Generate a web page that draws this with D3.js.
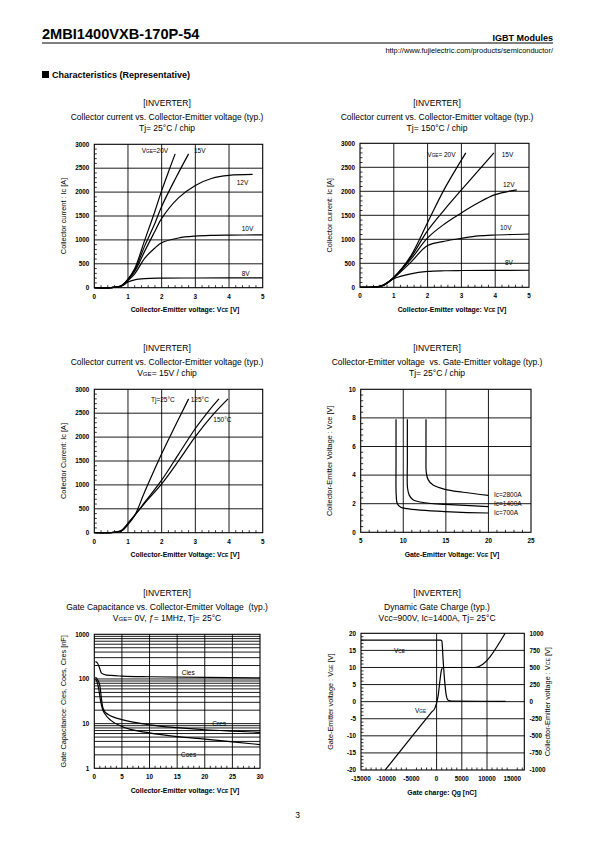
<!DOCTYPE html>
<html><head><meta charset="utf-8">
<script src="https://cdn.jsdelivr.net/npm/d3@7"></script>
<style>html,body{margin:0;padding:0;background:#fff}svg{display:block}text{font-family:"Liberation Sans",Arial,sans-serif;fill:#000;white-space:pre}</style>
</head><body><svg id="page" width="595" height="842"></svg>
<script>
// ---------- DATA ----------
const ticksIc = [0,500,1000,1500,2000,2500,3000];
const ticksVce5 = [0,1,2,3,4,5];
// Chart 1: Tj=25°C  [Vce, Ic]
const c1_20V = [[0,0],[0.5,3],[0.8,40],[1.0,180],[1.2,400],[1.5,1000],[1.8,1600],[2.0,2030],[2.2,2420],[2.4,2800]];
const c1_15V = [[0,0],[0.5,3],[0.8,38],[1.0,175],[1.2,370],[1.5,880],[1.8,1350],[2.0,1700],[2.4,2270],[2.8,2800]];
const c1_12V = [[0,0],[0.5,3],[0.8,36],[1.0,170],[1.2,340],[1.5,770],[1.8,1180],[2.0,1450],[2.5,1880],[3.0,2140],[3.5,2290],[4.0,2350],[4.7,2370]];
const c1_10V = [[0,0],[0.5,3],[0.8,34],[1.0,150],[1.2,290],[1.5,620],[1.8,830],[2.0,940],[2.5,1040],[3.0,1080],[3.5,1095],[4.0,1100],[5.0,1105]];
const c1_8V  = [[0,0],[0.5,3],[0.8,30],[1.0,120],[1.2,165],[1.5,190],[2.0,200],[3.0,203],[5.0,205]];
const c1Labels = ["VGE=20V","15V","12V","10V","8V"];
// Chart 2: Tj=150°C
const c2_20V = [[0,0],[0.5,10],[0.7,50],[1.0,210],[1.5,650],[2.0,1350],[2.5,2050],[3.13,2800]];
const c2_15V = [[0,0],[0.5,10],[0.7,48],[1.0,205],[1.5,620],[2.0,1180],[2.5,1620],[3.0,2030],[3.5,2430],[3.96,2800]];
const c2_12V = [[0,0],[0.5,10],[0.7,46],[1.0,200],[1.5,580],[2.0,1030],[2.5,1320],[3.0,1550],[3.5,1760],[4.0,1930],[4.64,2030]];
const c2_10V = [[0,0],[0.5,10],[0.7,44],[1.0,195],[1.5,520],[2.0,870],[2.5,960],[3.0,1020],[3.5,1070],[4.0,1090],[5.0,1110]];
const c2_8V  = [[0,0],[0.5,10],[0.7,40],[1.0,180],[1.5,280],[2.0,330],[2.5,345],[3.0,350],[5.0,355]];
const c2Labels = ["VGE= 20V","15V","12V","10V","8V"];
// Chart 3: VGE=15V
const c3_25C  = [[0,0],[0.5,3],[0.8,30],[1.0,170],[1.2,360],[1.5,860],[2.0,1650],[2.4,2230],[2.8,2800]];
const c3_125C = [[0,0],[0.5,2],[0.8,40],[1.0,190],[1.3,450],[1.5,640],[2.0,1100],[2.5,1640],[3.0,2180],[3.4,2550],[3.7,2800]];
const c3_150C = [[0,0],[0.5,2],[0.8,45],[1.0,200],[1.3,450],[1.5,620],[2.0,1020],[2.5,1500],[3.0,2010],[3.5,2450],[3.97,2800]];
const c3Labels = ["Tj=25°C","125°C","150°C"];
// Chart 4: Vce vs Vge  [Vge, Vce]
const ticksVge = [5,10,15,20,25];
const ticksVce10 = [0,2,4,6,8,10];
const c4_700A  = [[9.15,7.9],[9.15,5],[9.17,2.6],[9.3,2.0],[9.7,1.75],[10.4,1.65],[12,1.55],[14.9,1.45],[20,1.35]];
const c4_1400A = [[10.48,7.9],[10.48,5],[10.5,3.1],[10.7,2.6],[11.1,2.3],[11.6,2.17],[13,2.03],[14.9,1.95],[20,1.8]];
const c4_2800A = [[12.67,7.9],[12.67,5.5],[12.7,4.2],[12.9,3.7],[13.5,3.3],[14.9,3.0],[17,2.8],[20,2.58]];
const c4Labels = ["Ic=2800A","Ic=1400A","Ic=700A"];
// Chart 5: capacitance  [Vce, C nF]
const ticksVce30 = [0,5,10,15,20,25,30];
const ticksCap = [1,10,100,1000];
const c5_Cies = [[0.2,245],[0.6,225],[1.0,170],[1.3,135],[2,124],[3,120],[5,116],[10,112],[20,108],[30,106]];
const c5_Cres = [[0.2,110],[0.6,96],[1.0,72],[1.25,40],[1.5,24],[1.8,19.5],[2.5,16],[3.5,14],[5,12.3],[10,9.4],[15,8.1],[20,7.3],[25,6.8],[30,6.4]];
const c5_Coes = [[0.2,100],[0.5,86],[0.8,60],[1.1,34],[1.5,21],[2,16],[3,11.8],[5,8.6],[10,6.2],[15,5.1],[20,4.5],[25,3.9],[30,3.4]];
const c5Labels = ["Cies","Cres","Coes"];
// Chart 6: gate charge  [Qg nC, V]
const ticksQg = [-15000,-10000,-5000,0,5000,10000,15000];
const ticksVgeL = [-20,-15,-10,-5,0,5,10,15,20];
const ticksVceR = [-1000,-750,-500,-250,0,250,500,750,1000];
const c6_Vge = [[-10200,-20],[-5000,-10.4],[-1000,-3.1],[-340,-1.9],[0,-0.4],[330,2],[650,6],[1000,9.5],[1250,10],[7600,10],[13600,20]];
const c6_Vce = [[-15000,900],[800,900],[1050,885],[1300,600],[1600,300],[1900,100],[2300,20],[3000,8],[13700,5]];
const c6Labels = ["VCE","VGE"];

// ---------- DRAW ----------
const svg = d3.select("#page");

// header
svg.append("text").attr("x",42).attr("y",39).attr("font-size",14.6).attr("font-weight","bold").text("2MBI1400VXB-170P-54");
svg.append("line").attr("x1",42).attr("x2",553).attr("y1",43).attr("y2",43).attr("stroke","#000").attr("stroke-width",1);
svg.append("text").attr("x",553).attr("y",41).attr("text-anchor","end").attr("font-size",9).attr("font-weight","bold").text("IGBT Modules");
svg.append("text").attr("x",553).attr("y",52.5).attr("text-anchor","end").attr("font-size",7.4).text("http://www.fujielectric.com/products/semiconductor/");
svg.append("rect").attr("x",42).attr("y",71).attr("width",7).attr("height",7).attr("fill","#000");
svg.append("text").attr("x",52).attr("y",78).attr("font-size",9).attr("font-weight","bold").text("Characteristics (Representative)");
svg.append("text").attr("x",297.5).attr("y",818).attr("text-anchor","middle").attr("font-size",8.5).text("3");

function subText(sel, parts, size){
  parts.forEach(p=>{
    const t = sel.append("tspan").text(p[0]);
    if(p[1]) t.attr("font-size", size*0.72);
  });
  return sel;
}
function parseSub(str){
  const out=[]; const re=/_\{([^}]*)\}/g; let last=0,m;
  while((m=re.exec(str))){ if(m.index>last) out.push([str.slice(last,m.index),false]); out.push([m[1],true]); last=re.lastIndex; }
  if(last<str.length) out.push([str.slice(last),false]);
  return out;
}
function txt(g,x,y,str,size,opts={}){
  const t = g.append("text").attr("x",x).attr("y",y).attr("font-size",size);
  if(opts.anchor) t.attr("text-anchor",opts.anchor);
  if(opts.weight) t.attr("font-weight",opts.weight);
  if(opts.rotate) t.attr("transform",`rotate(${opts.rotate},${x},${y})`);
  subText(t, parseSub(str), size);
  return t;
}

function chart(cfg){
  const g = svg.append("g");
  const {L,T,R,B} = cfg;
  const x = d3.scaleLinear().domain(cfg.xDomain).range([L,R]);
  const y = (cfg.yType==="log" ? d3.scaleLog() : d3.scaleLinear()).domain(cfg.yDomain).range([B,T]);
  const tc = cfg.titleX;
  txt(g,tc,cfg.titleY,"[INVERTER]",8.5,{anchor:"middle"});
  txt(g,tc,cfg.titleY+14,cfg.title,8.5,{anchor:"middle"});
  txt(g,tc,cfg.titleY+25,cfg.sub,8.5,{anchor:"middle"});
  const gl = g.append("g").attr("stroke","#000").attr("stroke-width",0.9);
  cfg.xGrid.forEach(v=>gl.append("line").attr("x1",x(v)).attr("x2",x(v)).attr("y1",T).attr("y2",B));
  cfg.yGrid.forEach(v=>gl.append("line").attr("y1",y(v)).attr("y2",y(v)).attr("x1",L).attr("x2",R));
  const mt = g.append("g").attr("stroke","#000").attr("stroke-width",0.8);
  (cfg.xMinor||[]).forEach(v=>mt.append("line").attr("x1",x(v)).attr("x2",x(v)).attr("y1",B).attr("y2",B-2.5));
  (cfg.yMinor||[]).forEach(v=>mt.append("line").attr("y1",y(v)).attr("y2",y(v)).attr("x1",L).attr("x2",L+2.5));
  g.append("rect").attr("x",L).attr("y",T).attr("width",R-L).attr("height",B-T).attr("fill","none").attr("stroke","#000").attr("stroke-width",1.1);
  cfg.xTicks.forEach(v=>txt(g,x(v),B+11,String(v),6.3,{anchor:"middle",weight:"bold"}));
  cfg.yTicks.forEach(v=>txt(g,L-5,y(v)+2.2,String(v),6.3,{anchor:"end",weight:"bold"}));
  txt(g,cfg.xLabelX,B+24.5,cfg.xLabel,6.9,{anchor:"middle",weight:"bold"});
  txt(g,cfg.yLabelX,(T+B)/2,cfg.yLabel,7.3,{anchor:"middle",rotate:-90});
  return {g,x,y};
}
function drawLine(c, data, yScale, curve){
  const ys = yScale || c.y;
  const line = d3.line().x(d=>c.x(d[0])).y(d=>ys(d[1])).curve(curve || d3.curveCatmullRom.alpha(0.5));
  c.g.append("path").attr("d",line(data)).attr("fill","none").attr("stroke","#000").attr("stroke-width",1.2);
}
const range = (a,b,s)=>d3.range(a,b+s/2,s).map(v=>+v.toFixed(4));
const minorIc = range(0,3000,100).filter(v=>v%500!==0);
const minorV5 = range(0,5,0.2).filter(v=>Math.abs(v-Math.round(v))>1e-6);

// Chart 1
const ch1 = chart({L:94.3,T:144.3,R:262.7,B:287.7,xDomain:[0,5],yDomain:[0,3000],
  titleX:167,titleY:105.5,title:"Collector current vs. Collector-Emitter voltage (typ.)",sub:"Tj= 25°C / chip",
  xGrid:[1,2,3,4],yGrid:[500,1000,1500,2000,2500],xMinor:minorV5,yMinor:minorIc,
  xTicks:ticksVce5,yTicks:ticksIc,xLabel:"Collector-Emitter voltage: V_{CE} [V]",xLabelX:185,
  yLabel:"Collector current : Ic [A]",yLabelX:66});
[c1_20V,c1_15V,c1_12V,c1_10V,c1_8V].forEach(d=>drawLine(ch1,d));
const c1Pos = [[141.7,153],[194,153],[236.7,185],[241.7,231],[241.7,276]];
c1Labels.forEach((s,i)=>txt(ch1.g,c1Pos[i][0],c1Pos[i][1],s.replace("VGE","V_{GE}"),6.5,{}));

// Chart 2
const ch2 = chart({L:360,T:143.3,R:529,B:287.3,xDomain:[0,5],yDomain:[0,3000],
  titleX:437,titleY:105.5,title:"Collector current vs. Collector-Emitter voltage (typ.)",sub:"Tj= 150°C / chip",
  xGrid:[1,2,3,4],yGrid:[500,1000,1500,2000,2500],xMinor:minorV5,yMinor:minorIc,
  xTicks:ticksVce5,yTicks:ticksIc,xLabel:"Collector-Emitter voltage: V_{CE} [V]",xLabelX:452,
  yLabel:"Collector current: Ic [A]",yLabelX:332});
[c2_20V,c2_15V,c2_12V,c2_10V,c2_8V].forEach(d=>drawLine(ch2,d));
const c2Pos = [[427.3,157],[501.7,157],[503,187],[500,230],[505,265]];
c2Labels.forEach((s,i)=>txt(ch2.g,c2Pos[i][0],c2Pos[i][1],s.replace("VGE","V_{GE}"),6.5,{}));

// Chart 3
const ch3 = chart({L:94.3,T:389.3,R:262.7,B:532.7,xDomain:[0,5],yDomain:[0,3000],
  titleX:167,titleY:350.5,title:"Collector current vs. Collector-Emitter voltage (typ.)",sub:"V_{GE}= 15V / chip",
  xGrid:[1,2,3,4],yGrid:[500,1000,1500,2000,2500],xMinor:minorV5,yMinor:minorIc,
  xTicks:ticksVce5,yTicks:ticksIc,xLabel:"Collector-Emitter Voltage: V_{CE} [V]",xLabelX:185,
  yLabel:"Collector Current: Ic [A]",yLabelX:66});
[c3_25C,c3_125C,c3_150C].forEach(d=>drawLine(ch3,d));
const c3Pos = [[151,402],[190.7,402],[213.3,422]];
c3Labels.forEach((s,i)=>txt(ch3.g,c3Pos[i][0],c3Pos[i][1],s,6.5,{}));

// Chart 4
const ch4 = chart({L:360.7,T:389.3,R:531,B:532.3,xDomain:[5,25],yDomain:[0,10],
  titleX:437,titleY:350.5,title:"Collector-Emitter voltage  vs. Gate-Emitter voltage (typ.)",sub:"Tj= 25°C / chip",
  xGrid:[10,15,20],yGrid:[2,4,6,8],xMinor:range(5,25,1).filter(v=>v%5!==0),yMinor:range(0,10,0.4).filter(v=>Math.abs(v/2-Math.round(v/2))>1e-6),
  xTicks:ticksVge,yTicks:ticksVce10,xLabel:"Gate-Emitter Voltage: V_{GE} [V]",xLabelX:452,
  yLabel:"Collector-Emitter Voltage : Vce [V]",yLabelX:332});
[c4_700A,c4_1400A,c4_2800A].forEach(d=>drawLine(ch4,d));
const c4Pos = [[494,497],[494,505.5],[494,514.5]];
c4Labels.forEach((s,i)=>txt(ch4.g,c4Pos[i][0],c4Pos[i][1],s,6.5,{}));

// Chart 5
const capGrid = [];
[1,10,100].forEach(d=>{for(let k=1;k<=9;k++){const v=d*k; if(v>1) capGrid.push(v);}});
const ch5 = chart({L:94.3,T:634.3,R:260,B:768.3,xDomain:[0,30],yDomain:[1,1000],yType:"log",
  titleX:167,titleY:595.5,title:"Gate Capacitance vs. Collector-Emitter Voltage  (typ.)",sub:"V_{GE}= 0V, ƒ= 1MHz, Tj= 25°C",
  xGrid:[5,10,15,20,25],yGrid:capGrid,xMinor:range(0,30,1).filter(v=>v%5!==0),yMinor:[],
  xTicks:ticksVce30,yTicks:ticksCap,xLabel:"Collector-Emitter voltage: V_{CE} [V]",xLabelX:185,
  yLabel:"Gate Capacitance: Cies, Coes, Cres [nF]",yLabelX:66});
[c5_Cies,c5_Cres,c5_Coes].forEach(d=>drawLine(ch5,d,null,d3.curveMonotoneX));
const c5Pos = [[181.7,674.5],[212.3,725.5],[181,757]];
c5Labels.forEach((s,i)=>txt(ch5.g,c5Pos[i][0],c5Pos[i][1],s,6.5,{}));

// Chart 6
const ch6 = chart({L:361,T:633.3,R:524.3,B:770,xDomain:[-15000,17400],yDomain:[-20,20],
  titleX:437,titleY:595.5,title:"Dynamic Gate Charge (typ.)",sub:"Vcc=900V, Ic=1400A, Tj= 25°C",
  xGrid:[0,5000,10000],yGrid:[-15,-10,-5,0,5,10,15],xMinor:range(-15000,17000,1000).filter(v=>v%5000!==0),yMinor:range(-20,20,1).filter(v=>v%5!==0),
  xTicks:ticksQg,yTicks:ticksVgeL,xLabel:"Gate charge: Qg [nC]",xLabelX:442,
  yLabel:"Gate-Emitter voltage : V_{GE} [V]",yLabelX:333});
const yR = d3.scaleLinear().domain([-1000,1000]).range([770,633.3]);
ticksVceR.forEach(v=>txt(ch6.g,529.5,yR(v)+2.2,String(v),6.3,{weight:"bold"}));
txt(ch6.g,550,(633.3+770)/2,"Collector-Emitter voltage : V_{CE} [V]",7.3,{anchor:"middle",rotate:-90});
drawLine(ch6,c6_Vge,null,d3.curveMonotoneX);
drawLine(ch6,c6_Vce,yR,d3.curveMonotoneX);
const c6Pos = [[394,653],[415,713]];
c6Labels.forEach((s,i)=>txt(ch6.g,c6Pos[i][0],c6Pos[i][1],"V_{"+s.slice(1)+"}",6.5,{}));
</script></body></html>
